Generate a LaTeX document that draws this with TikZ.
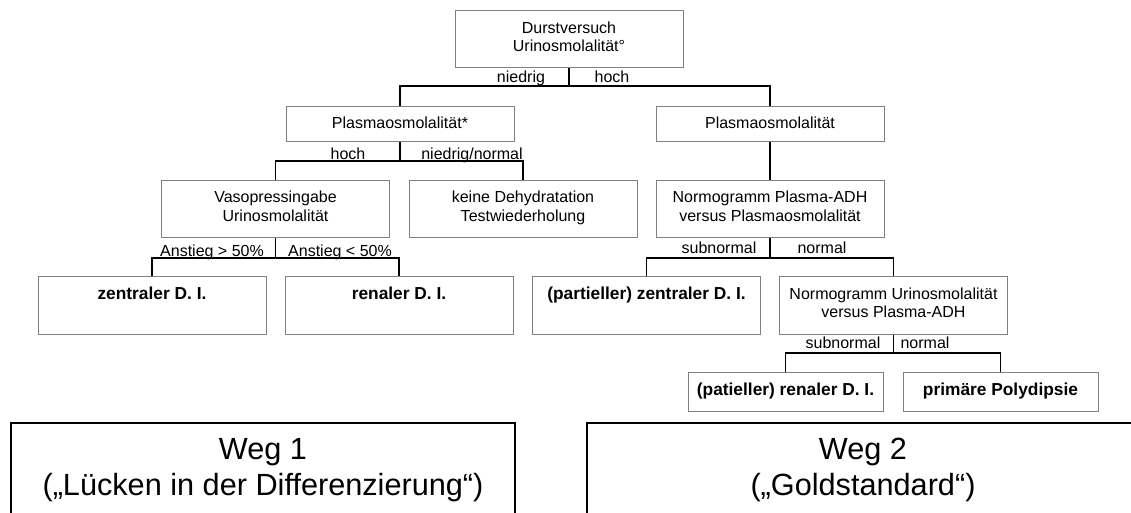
\documentclass[tikz,border=0pt]{standalone}
\usepackage{fontspec}
\setmainfont{Liberation Sans}
\usepackage{tikz}
\usetikzlibrary{positioning,calc}
\definecolor{boxgray}{RGB}{128,128,128}

\begin{document}
\begin{tikzpicture}[x=0.75pt,y=-0.75pt,
    box/.style={draw=boxgray, line width=0.75pt, inner sep=0pt, align=center,
      minimum width=171pt, minimum height=42.75pt,
      font=\fontsize{12}{14}\selectfont, execute at end node=\strut},
    flat/.style={box, minimum height=26.25pt},
    small/.style={box, minimum width=146.25pt, minimum height=29.25pt},
    result/.style={font=\fontsize{13}{14}\selectfont\bfseries},
    lbl/.style={anchor=base, inner sep=0pt, font=\fontsize{12}{14}\selectfont},
    conn/.style={line width=1pt},
    wegline/.style={line width=1.5pt},
    weg/.style={align=center, font=\fontsize{23}{26.5}\selectfont}]
    \useasboundingbox (0,0) rectangle (1131,513);

    % Durstversuch
    \node[box] (durst) at (569,39.5) {Durstversuch\\Urinosmolalität°};
    \node[flat] (plasmaL) at (400,124.5) {Plasmaosmolalität*};
    \node[flat] (plasmaR) at (770,124.5) {Plasmaosmolalität};
    \coordinate (s1) at (569,86);
    \draw[conn] (durst.south) -- (s1);
    \draw[conn] (plasmaL.north) |- (s1) -| (plasmaR.north);
    \node[lbl] (niedrig) at (521,83) {niedrig};
    \node[lbl] (hoch) at (612,83) {hoch};

    % Weg 1: Plasmaosmolalitaet*
    \node[box] (vaso) at (275.5,209) {Vasopressingabe\\Urinosmolalität};
    \node[box] (keine) at (523,209) {keine Dehydratation\\Testwiederholung};
    \coordinate (s2) at (400,161);
    \draw[conn] (plasmaL.south) -- (s2);
    \draw[conn] (vaso.north) |- (s2) -| (keine.north);
    \node[lbl] (hochL) at (348,159.5) {hoch};
    \node[lbl] (nnL) at (472,159.5) {niedrig/normal};

    % Vasopressin test
    \node[box] (zentral) at (152,305.5) {\textbf{\fontsize{13}{18}\selectfont zentraler D. I.}\\\mbox{}};
    \node[box] (renal) at (399,305.5) {\textbf{\fontsize{13}{18}\selectfont renaler D. I.}\\\mbox{}};
    \coordinate (s3) at (275.5,258);
    \draw[conn] (vaso.south) -- (s3);
    \draw[conn] (zentral.north) |- (s3) -| (renal.north);
    \node[lbl] (mehr) at (212,256.5) {Anstieg > 50\%};
    \node[lbl] (weniger) at (340,256.5) {Anstieg < 50\%};

    % Weg 2: Normogramme
    \node[box] (normP) at (770,209) {Normogramm Plasma-ADH\\versus Plasmaosmolalität};
    \draw[conn] (plasmaR.south) -- (normP.north);
    \node[box] (partZ) at (646.5,305.5) {\textbf{\fontsize{13}{18}\selectfont (partieller) zentraler D. I.}\\\mbox{}};
    \node[box] (normU) at (893.5,305.5) {Normogramm Urinosmolalität\\versus Plasma-ADH};
    \coordinate (s4) at (770,258);
    \draw[conn] (normP.south) -- (s4);
    \draw[conn] (partZ.north) |- (s4) -| (normU.north);
    \node[lbl] (subP) at (719,254) {subnormal};
    \node[lbl] (normalP) at (822,254) {normal};

    \node[small, result] (partR) at (785.5,391.5) {(patieller) renaler D. I.};
    \node[small, result] (prim) at (1000.5,391.5) {primäre Polydipsie};
    \coordinate (s5) at (893.5,353);
    \draw[conn] (normU.south) -- (s5);
    \draw[conn] (partR.north) |- (s5) -| (prim.north);
    \node[lbl] (subU) at (843,348) {subnormal};
    \node[lbl] (normalU) at (925,348) {normal};

    % Weg boxes, open at the bottom
    \draw[wegline] (11,530) |- (515,423) -- (515,530);
    \draw[wegline] (587,530) |- (1145,423);
    \node[weg] (weg1) at (263,470) {Weg 1\\(„Lücken in der Differenzierung“)};
    \node[weg] (weg2) at (863,470) {Weg 2\\(„Goldstandard“)};
\end{tikzpicture}
\end{document}
